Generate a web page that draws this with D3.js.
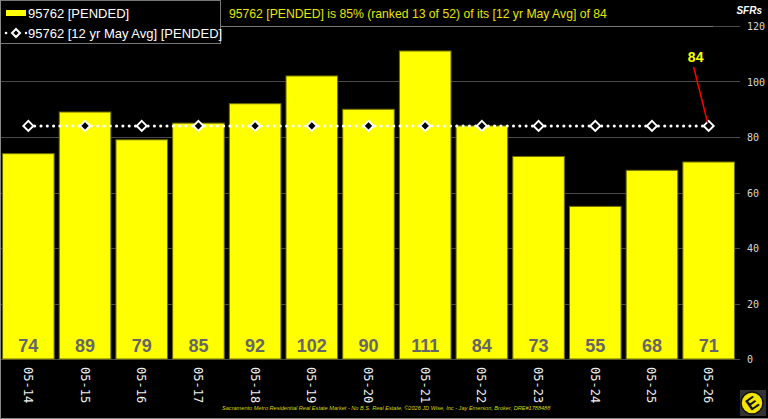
<!DOCTYPE html>
<html>
<head>
<meta charset="utf-8">
<script src="https://cdn.jsdelivr.net/npm/d3@7"></script>
<style>
  body { margin: 0; background: #000; }
  svg { display: block; }
</style>
</head>
<body>
<svg id="chart" width="768" height="419"></svg>
<script>
var categories = ["05-14", "05-15", "05-16", "05-17", "05-18", "05-19", "05-20", "05-21", "05-22", "05-23", "05-24", "05-25", "05-26"];
var pended = [74, 89, 79, 85, 92, 102, 90, 111, 84, 73, 55, 68, 71];
var avg12 = [84, 84, 84, 84, 84, 84, 84, 84, 84, 84, 84, 84, 84];
var yTicks = [0, 20, 40, 60, 80, 100, 120];

var svg = d3.select("#chart");
var W = 768, H = 419;

svg.append("rect").attr("width", W).attr("height", H).attr("fill", "#000");

var x = d3.scaleBand()
  .domain(categories)
  .range([0, 737])
  .paddingInner(0.09)
  .paddingOuter(0.045);

var y = d3.scaleLinear()
  .domain([0, 120])
  .range([359, 26]);

// gridlines
svg.append("g")
  .selectAll("line")
  .data(yTicks)
  .join("line")
  .attr("x1", 0)
  .attr("x2", 740)
  .attr("y1", function(d) { return Math.round(y(d)) + 0.5; })
  .attr("y2", function(d) { return Math.round(y(d)) + 0.5; })
  .attr("stroke", "#4a4a4a")
  .attr("stroke-width", 1);

// y labels
svg.append("g")
  .selectAll("text")
  .data(yTicks)
  .join("text")
  .attr("x", 747)
  .attr("y", function(d) { return y(d) + 4; })
  .attr("fill", "#d8d8d8")
  .attr("font-family", "DejaVu Sans Mono")
  .attr("font-size", 10)
  .text(function(d) { return d; });

svg.append("text")
  .attr("x", 762)
  .attr("y", 14)
  .attr("text-anchor", "end")
  .attr("fill", "#fff")
  .attr("font-family", "Liberation Sans")
  .attr("font-style", "italic")
  .attr("font-weight", "bold")
  .attr("font-size", 10)
  .text("SFRs");

// bars
svg.append("g")
  .selectAll("rect")
  .data(pended)
  .join("rect")
  .attr("x", function(d, i) { return x(categories[i]); })
  .attr("y", function(d) { return y(d); })
  .attr("width", x.bandwidth())
  .attr("height", function(d) { return y(0) - y(d); })
  .attr("fill", "#ffff00")
  .attr("stroke", "#6b6b00")
  .attr("stroke-width", 1);

// value labels
svg.append("g")
  .selectAll("text")
  .data(pended)
  .join("text")
  .attr("x", function(d, i) { return x(categories[i]) + x.bandwidth() / 2; })
  .attr("y", 352)
  .attr("text-anchor", "middle")
  .attr("fill", "#666")
  .attr("font-family", "Liberation Sans")
  .attr("font-weight", "bold")
  .attr("font-size", 18)
  .text(function(d) { return d; });

// x labels
svg.append("g")
  .selectAll("text")
  .data(categories)
  .join("text")
  .attr("transform", function(d) {
    return "translate(" + (x(d) + x.bandwidth() / 2 - 4.5) + ",367) rotate(90)";
  })
  .attr("fill", "#f0f0f0")
  .attr("font-family", "DejaVu Sans Mono")
  .attr("font-size", 12)
  .text(function(d) { return d; });

// avg line
var line = d3.line()
  .x(function(d, i) { return x(categories[i]) + x.bandwidth() / 2; })
  .y(function(d) { return y(d); });

svg.append("path")
  .datum(avg12)
  .attr("d", line)
  .attr("fill", "none")
  .attr("stroke", "#fff")
  .attr("stroke-width", 3)
  .attr("stroke-linecap", "round")
  .attr("stroke-dasharray", "0.1,6.2");

svg.append("g")
  .selectAll("path")
  .data(avg12)
  .join("path")
  .attr("transform", function(d, i) {
    return "translate(" + (x(categories[i]) + x.bandwidth() / 2) + "," + y(d) + ")";
  })
  .attr("d", "M0,-5L5,0L0,5L-5,0Z")
  .attr("fill", "#000")
  .attr("stroke", "#fff")
  .attr("stroke-width", 2);

// annotation for last avg point
var lastI = avg12.length - 1;
var lx = x(categories[lastI]) + x.bandwidth() / 2;
svg.append("line")
  .attr("x1", lx - 15)
  .attr("y1", 67)
  .attr("x2", lx - 1)
  .attr("y2", y(avg12[lastI]) - 3)
  .attr("stroke", "#ff0000")
  .attr("stroke-width", 1.5);
svg.append("text")
  .attr("x", lx - 13)
  .attr("y", 62)
  .attr("text-anchor", "middle")
  .attr("fill", "#ffff00")
  .attr("font-family", "Liberation Sans")
  .attr("font-weight", "bold")
  .attr("font-size", 14)
  .text(avg12[lastI]);

// title box
svg.append("path")
  .attr("d", "M220.5,0V26.5H713")
  .attr("fill", "none")
  .attr("stroke", "#777");
svg.append("text")
  .attr("x", 229)
  .attr("y", 18)
  .attr("fill", "#e6e600")
  .attr("font-family", "Liberation Sans")
  .attr("font-size", 12.2)
  .text("95762 [PENDED] is 85% (ranked 13 of 52) of its [12 yr May Avg] of 84");

// legend
var lg = svg.append("g");
lg.append("rect")
  .attr("x", 0.5).attr("y", 0.5)
  .attr("width", 220).attr("height", 43)
  .attr("fill", "#000")
  .attr("stroke", "#777");
lg.append("rect")
  .attr("x", 6).attr("y", 10)
  .attr("width", 20).attr("height", 6)
  .attr("fill", "#ffff00");
lg.append("text")
  .attr("x", 28).attr("y", 18)
  .attr("fill", "#fff")
  .attr("font-family", "Liberation Sans")
  .attr("font-size", 13)
  .text("95762 [PENDED]");
lg.append("line")
  .attr("x1", 6).attr("x2", 26)
  .attr("y1", 33).attr("y2", 33)
  .attr("stroke", "#fff")
  .attr("stroke-width", 2.5)
  .attr("stroke-linecap", "round")
  .attr("stroke-dasharray", "0.1,9.9");
lg.append("path")
  .attr("transform", "translate(16,33)")
  .attr("d", "M0,-4L4,0L0,4L-4,0Z")
  .attr("fill", "#000")
  .attr("stroke", "#fff")
  .attr("stroke-width", 2);
lg.append("text")
  .attr("x", 28).attr("y", 38)
  .attr("fill", "#fff")
  .attr("font-family", "Liberation Sans")
  .attr("font-size", 13)
  .text("95762 [12 yr May Avg] [PENDED]");

// footer
svg.append("text")
  .attr("x", 222)
  .attr("y", 410)
  .attr("fill", "#d6d600")
  .attr("font-family", "Liberation Sans")
  .attr("font-style", "italic")
  .attr("font-size", 5.6)
  .text("Sacramento Metro Residential Real Estate Market - No B.S. Real Estate, \u00a92026 JD Wise, Inc - Jay Emerson, Broker, DRE#1788488");

// logo
var logo = svg.append("g").attr("transform", "translate(752,403)");
logo.append("rect").attr("x", -12).attr("y", -13).attr("width", 26).attr("height", 26).attr("fill", "#333");
logo.append("circle").attr("r", 11).attr("fill", "#f2e600").attr("stroke", "#111").attr("stroke-width", 1.5);
logo.append("text")
  .attr("transform", "rotate(-35)")
  .attr("y", 6)
  .attr("text-anchor", "middle")
  .attr("fill", "#111")
  .attr("font-family", "Liberation Sans")
  .attr("font-weight", "bold")
  .attr("font-size", 17)
  .text("E");

// outer border
svg.append("path")
  .attr("d", "M0.5,0V418.5H768")
  .attr("fill", "none")
  .attr("stroke", "#888");
</script>
</body>
</html>
